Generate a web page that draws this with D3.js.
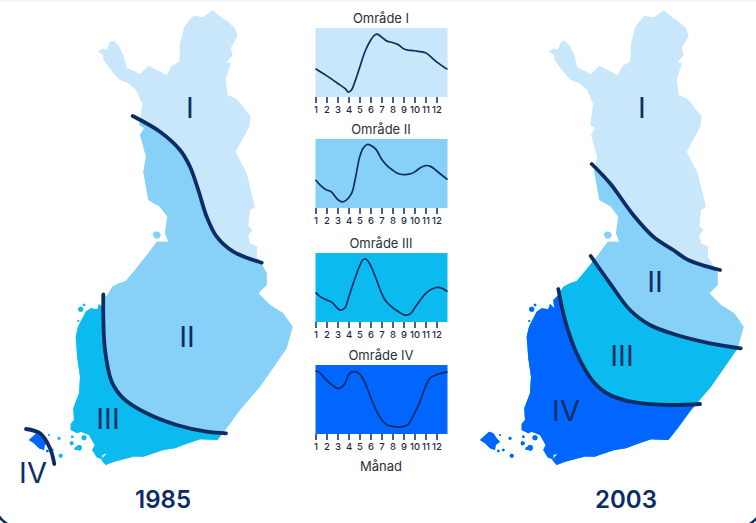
<!DOCTYPE html>
<html>
<head>
<meta charset="utf-8">
<script src="https://cdn.jsdelivr.net/npm/d3@7"></script>
<style>
  html, body { margin: 0; padding: 0; background: #fff; }
  svg { display: block; }
  text { font-family: Inter, "Open Sans", sans-serif; }
</style>
</head>
<body>
<svg id="chart" width="756" height="523"></svg>
<script>
// Colours of the four zones
var zoneColors = ["#c8e7fb", "#87d0f8", "#0bbbef", "#0066ff"];
var navy = "#0b2d63";

// Finland outline (map units, same for both years)
var outline = [
  [97.7,51.7],[102.7,48.3],[106.7,50],[110,41.7],[114,40.7],[119.3,46.7],[123.3,55],[126.7,67.7],
  [134,71],[140,74],[148.3,65.7],[155,69.3],[166.7,75],[171.7,65.7],[179.3,61.7],[180,43.3],
  [184.3,26.7],[193.3,15.7],[203.3,17.3],[212.7,10],[216.7,14],[226.7,20.7],[235,28.3],[237.7,36],
  [230.7,48.3],[232.7,55],[226.7,62.3],[231,63.3],[225.7,79.3],[227.7,95],[236.7,99],[250.7,116.7],
  [249.3,126.7],[235.7,151.7],[246.7,173.3],[255,206.7],[250,210],[248.3,226],[252.7,230],[248.3,235],
  [250,243.3],[257.3,246.7],[256.7,256.7],[263.3,266.7],[266.7,273.3],[266.7,285],[258.3,293.3],
  [270,305],[283.3,313.3],[292.7,326.7],[286.7,348.3],[260,386.7],[240,410],[226.7,428.3],[217.3,440],
  [200,439.3],[183.3,445],[175,448.3],[163.3,450],[143.3,456.7],[134,456.5],[114,461.7],[105.7,465],
  [101.3,460],[106.7,453.3],[102.3,455],[102.3,459.3],[96.7,457.3],[92.3,450],[94.7,445],[89,435],
  [80.7,431.7],[77.3,433.3],[70.7,430],[70.7,424],[74,420],[73.3,408.3],[79,393.3],[80,376.7],
  [77.3,358.3],[75.7,336.7],[78,326.7],[85.7,311.7],[90.7,308.3],[97.3,309.3],[99,304],[103.3,308.3],
  [102.3,300],[107.3,295],[112.3,286.7],[119,283.3],[125.7,281],[135,270],[148.3,253.3],[156.7,241.7],
  [168.3,241.7],[165,233.3],[167.3,216.7],[160,206.7],[148.3,200],[143.3,171.7],[146,156.7],[140,135],
  [144,128.3],[139.3,125],[140.7,115],[142.3,104],[140,99.3],[136,90],[128.3,83.3],[120,80],[115,75],
  [103.3,60],[103.3,55]
];
var aland = [[29,440],[38,431.7],[42.3,433.3],[45.7,438.3],[49,441.7],[44.7,445],[44,450],[39,448.3],[34,443.3]];
var hailuoto = [[152.5,234],[155,231.5],[159,232],[161,235.5],[158.5,238.5],[155,238.5]];
var islets = [
  [84,437.7,2.5],[79,447.7,2.8],[76,448.5,1.6],[72.3,436.7,1.3],[71.7,443.3,2],[59,438.3,1.5],[60.7,455.7,2],
  [52.3,450,1.3],[47.3,451,1.3],[49,435,1],[80.7,309.3,2.5],[84,305,1.3],[78.3,321,1]
];

// Zone borders
var border1985 = [
  [[132.7,116],[160,131.7],[180,150],[190,166.7],[198.3,190],[206.7,216.7],[216.7,236.7],[233.3,251.7],[261.7,262.7]],
  [[103.3,294.3],[103.3,316.7],[105,350],[111.7,381.7],[123.3,398.3],[146.7,413.3],[176.7,425],[206.7,431.7],[226,433.3]],
  [[26,429],[40,433.3],[50,448.3],[54.3,464]]
];
var border2003 = [
  [[140.7,164],[159,183.3],[182.3,215],[202.3,236.7],[222.3,250],[237.3,260],[269,270]],
  [[139.7,256],[159,283.3],[179,310],[199,325],[225.7,335],[259,343.3],[289.7,348.3]],
  [[107.3,289],[114,320],[125.7,353.3],[142.3,381.7],[159,395],[185.7,402.7],[219,405],[249,404]]
];

// Monthly curves for each zone: [month, value 0-100]
var areaNames = ["Område I", "Område II", "Område III", "Område IV"];
var monthLabels = [1,2,3,4,5,6,7,8,9,10,11,12];
var curveI = [[1,41],[2,31],[3,20],[3.7,12],[4,7],[4.3,11],[4.6,23],[5,42],[5.5,66],[6,82],[6.4,90],[6.6,91],[7,87],[7.5,81],[8,79],[8.5,76],[9,70],[9.4,68],[10,67],[11,64],[11.5,58],[12,51],[13,40]];
var curveII = [[1,41],[1.5,32],[2,26],[2.4,24],[3,12.5],[3.4,9],[3.8,11.5],[4.3,22],[4.6,41],[5,73],[5.3,86],[5.7,92],[6,91],[6.5,85],[7,71],[7.5,61.5],[8,55],[8.5,50],[9,48.5],[9.5,49],[10,52],[10.5,58],[11,61.5],[11.5,60],[12,54],[13,41]];
var curveIII = [[1,43],[1.5,36],[2,32],[2.5,28.5],[3,20],[3.3,17],[3.7,21],[4,35],[4.5,59],[5,81],[5.3,90],[5.6,91],[6,82],[6.5,63],[7,42],[7.4,30],[8,21],[8.5,15.5],[9,10.6],[9.3,10],[9.7,13],[10,20],[10.5,31],[11,41],[11.5,47],[12,50],[12.5,49],[13,44]];
var curveIV = [[1,91],[1.3,90],[2,78],[2.5,71],[3,66],[3.3,67],[3.7,74],[4,86],[4.3,90],[4.7,90],[5,87],[5.5,74],[6,54],[6.5,35],[7,21],[7.5,13.5],[8,11],[9,10.6],[9.4,13.5],[10,30],[10.5,47],[11,69],[11.4,81],[12,86],[13,90]];
var curves = [curveI, curveII, curveIII, curveIV];
var panelTops = [28, 139, 253, 365];

var svg = d3.select("#chart");

// Card edge: only the lower corners show up in the window
svg.append("rect").attr("width", 756).attr("height", 1.5).attr("fill", "#f2f2f2");
svg.append("rect")
  .attr("x", -5).attr("y", -100).attr("width", 767).attr("height", 627).attr("rx", 24)
  .attr("fill", "none").attr("stroke", navy).attr("stroke-width", 2.5);

var smooth = d3.line().curve(d3.curveCatmullRom.alpha(0.5));

// Draw one map
function drawMap(id, offset, borders, zones, lowerEnds, labels, yearText) {
  var x = d3.scaleLinear().domain([0, 300]).range([offset, offset + 300]);
  var y = d3.scaleLinear().domain([0, 523]).range([0, 523]);
  var pt = (d) => [x(d[0]), y(d[1])];
  var g = svg.append("g");
  var clip = g.append("clipPath").attr("id", id);
  var land = d3.line().curve(d3.curveLinearClosed);

  clip.append("path").attr("d", land(outline.map(pt)));
  clip.append("path").attr("d", land(hailuoto.map(pt)));
  clip.append("path").attr("d", land(aland.map(pt)));
  islets.forEach((d) => {
    clip.append("circle").attr("cx", x(d[0])).attr("cy", y(d[1])).attr("r", d[2]);
  });

  var inside = g.append("g").attr("clip-path", "url(#" + id + ")");
  inside.append("rect").attr("x", x(0)).attr("y", 0).attr("width", 300).attr("height", 523)
    .attr("fill", zoneColors[0]);

  // Each zone is painted over the previous one, from its border downwards
  borders.forEach((b, i) => {
    var line = smooth(b.map(pt));
    var tail = lowerEnds[i].map(pt).map((p) => p.join(",")).join("L");
    inside.append("path").attr("d", line + "L" + tail + "Z").attr("fill", zones[i]);
  });

  borders.forEach((b) => {
    g.append("path").attr("d", smooth(b.map(pt)))
      .attr("fill", "none").attr("stroke", navy)
      .attr("stroke-width", 3.8).attr("stroke-linecap", "round");
  });

  labels.forEach((d) => {
    g.append("text").attr("x", x(d[1])).attr("y", y(d[2]))
      .attr("text-anchor", "middle").attr("dominant-baseline", "central")
      .attr("font-size", 29).attr("font-family", "Open Sans").attr("font-weight", 400)
      .attr("fill", navy).text(d[0]);
  });

  g.append("text").attr("x", x(yearText[1])).attr("y", y(499))
    .attr("text-anchor", "middle").attr("dominant-baseline", "central")
    .attr("font-size", 24).attr("font-weight", 600).attr("font-family", "Open Sans")
    .attr("fill", navy).text(yearText[0]);
}

drawMap("land1985", 0, border1985, [zoneColors[1], zoneColors[2], zoneColors[3]],
  [[[300,262],[300,523],[0,523],[0,116]],
   [[300,445],[300,523],[0,523],[0,294]],
   [[54,523],[0,523],[0,429]]],
  [["I",190,107],["II",187,336],["III",108,418],["IV",33,472]], ["1985",163]);

drawMap("land2003", 451, border2003, [zoneColors[1], zoneColors[2], zoneColors[3]],
  [[[300,272],[300,523],[0,523],[0,164]],
   [[300,350],[300,523],[0,523],[0,256]],
   [[300,404],[300,523],[0,523],[0,289]]],
  [["I",191,107],["II",204,281],["III",171,355],["IV",115,410]], ["2003",175]);

// Small multiples in the middle
var xMonth = d3.scaleLinear().domain([1, 13]).range([315.5, 447.5]);
var panelH = 69;

curves.forEach((values, i) => {
  var top = panelTops[i];
  var yVal = d3.scaleLinear().domain([0, 100]).range([top + panelH, top]);
  var g = svg.append("g");

  g.append("text").attr("x", 381).attr("y", top - 10)
    .attr("text-anchor", "middle").attr("dominant-baseline", "central")
    .attr("font-size", 13).attr("fill", "#2b2f38").text(areaNames[i]);

  g.append("rect")
    .attr("x", xMonth(1)).attr("y", top)
    .attr("width", xMonth(13) - xMonth(1)).attr("height", panelH)
    .attr("fill", zoneColors[i]);

  var line = d3.line()
    .x((d) => xMonth(d[0]))
    .y((d) => yVal(d[1]))
    .curve(d3.curveCatmullRom.alpha(0.5));

  g.append("path").datum(values)
    .attr("d", line)
    .attr("fill", "none").attr("stroke", navy).attr("stroke-width", 1.7);

  var axis = d3.axisBottom(xMonth)
    .tickValues(monthLabels)
    .tickSize(6)
    .tickFormat(d3.format("d"));

  var ax = g.append("g").attr("transform", "translate(0," + (top + panelH) + ")").call(axis);
  ax.select(".domain").remove();
  ax.selectAll("line").attr("stroke", navy).attr("stroke-width", 1.5);
  ax.selectAll("text").attr("y", 9).attr("font-size", 9.5).attr("font-weight", 500)
    .attr("fill", "#1f2a40").attr("font-family", "Inter");
});

svg.append("text").attr("x", 381).attr("y", 466)
  .attr("text-anchor", "middle").attr("dominant-baseline", "central")
  .attr("font-size", 13).attr("fill", "#2b2f38").text("Månad");
</script>
</body>
</html>
